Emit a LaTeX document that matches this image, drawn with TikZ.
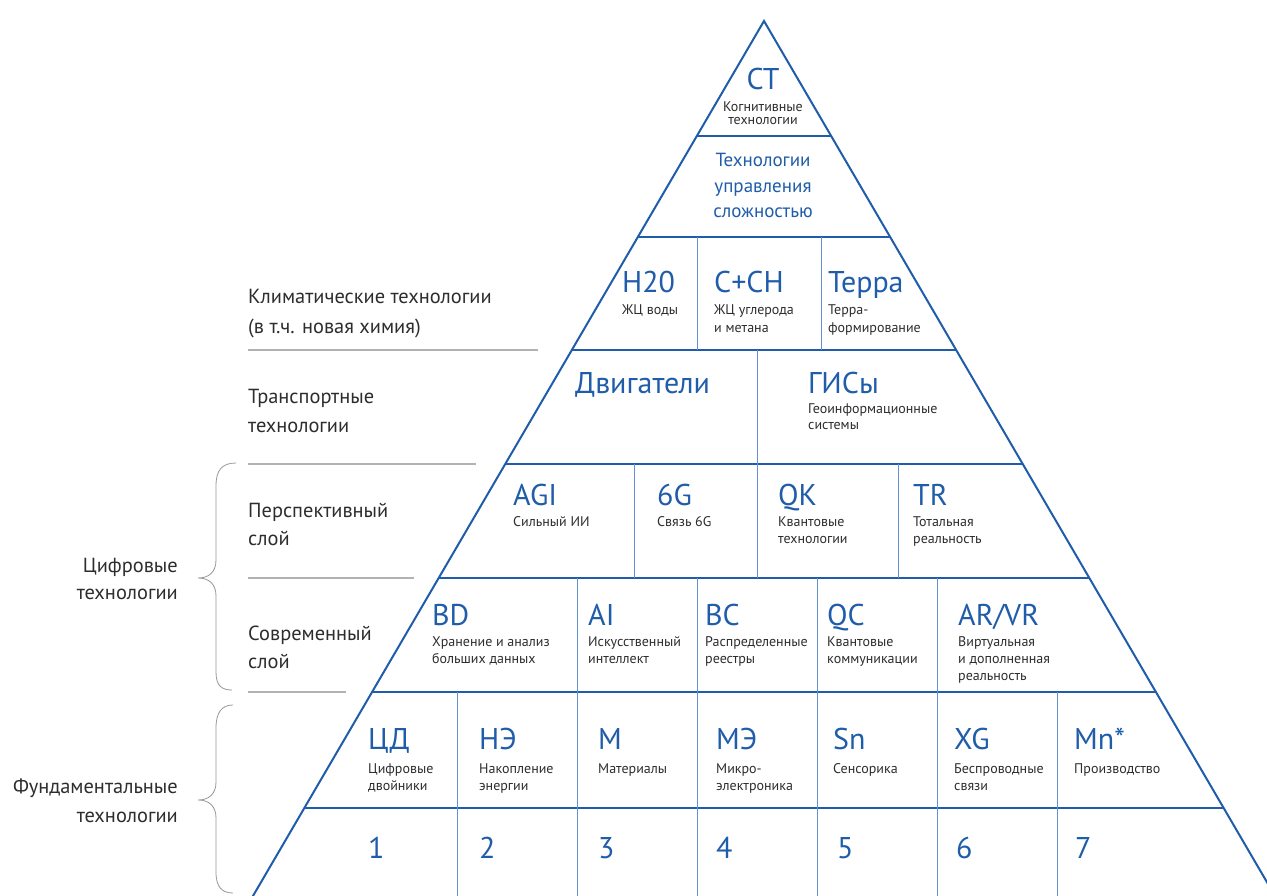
\documentclass[tikz,border=0pt]{standalone}
\usepackage{fontspec}
\setmainfont{PT Sans}
\definecolor{pblue}{RGB}{31,92,169}
\definecolor{lblue}{RGB}{100,145,208}
\definecolor{txt}{RGB}{45,45,45}
\definecolor{gline}{RGB}{178,178,178}
\definecolor{gbrace}{RGB}{150,150,150}
\tikzset{
  big/.style={anchor=base west, inner sep=0pt, text=pblue, font=\fontsize{30}{30}\selectfont},
  bigc/.style={anchor=base, inner sep=0pt, text=pblue, font=\fontsize{30}{30}\selectfont},
  mid/.style={anchor=base, inner sep=0pt, text=pblue, font=\fontsize{19}{19}\selectfont},
  sm/.style={anchor=base west, inner sep=0pt, text=txt, font=\fontsize{14}{14}\selectfont},
  smc/.style={anchor=base, inner sep=0pt, text=txt, font=\fontsize{14}{14}\selectfont},
  side/.style={anchor=base west, inner sep=0pt, text=txt, font=\fontsize{20.4}{20.4}\selectfont},
  sider/.style={anchor=base east, inner sep=0pt, text=txt, font=\fontsize{20.4}{20.4}\selectfont},
  outer/.style={draw=pblue, line width=2pt, line join=miter},
  hline/.style={draw=pblue, line width=1.1pt},
  vline/.style={draw=lblue, line width=1pt},
  gsep/.style={draw=gline, line width=1.2pt},
  gbr/.style={draw=gbrace, line width=0.8pt}
}
\begin{document}
\begin{tikzpicture}[x=1pt,y=-1pt]
\useasboundingbox (0,0) rectangle (1267,896);
\begin{scope}
\clip (0,0) rectangle (1267,896);
% inner horizontal lines
\draw[hline] (696.8,136) -- (831.2,136);
\draw[hline] (637.9,237) -- (890.1,237);
\draw[hline] (571.9,350) -- (956.1,350);
\draw[hline] (505.3,464) -- (1022.7,464);
\draw[hline] (438.7,578) -- (1089.3,578);
\draw[hline] (372.1,692) -- (1155.9,692);
\draw[hline] (304.4,808) -- (1223.6,808);
% vertical dividers
\draw[vline] (697,237) -- (697,350);
\draw[vline] (821,237) -- (821,350);
\draw[vline] (757,350) -- (757,578);
\draw[vline] (634,464) -- (634,578);
\draw[vline] (898,464) -- (898,578);
\draw[vline] (577,578) -- (577,692);
\draw[vline] (697,578) -- (697,692);
\draw[vline] (817,578) -- (817,692);
\draw[vline] (937,578) -- (937,692);
\foreach \vx in {457,577,697,817,937,1057}
  \draw[vline] (\vx,692) -- (\vx,900);
% outer triangle
\draw[outer] (247.7,905) -- (764,21) -- (1280.3,905);
\end{scope}

% left gray separators
\draw[gsep] (248,350) -- (538,350);
\draw[gsep] (248,464) -- (476,464);
\draw[gsep] (248,578) -- (414,578);
\draw[gsep] (248,692) -- (346,692);

% braces
\draw[gbr] (236,463) .. controls (222,463) and (216,470) .. (216,486) -- (216,560)
  .. controls (216,572) and (209,578) .. (198,578)
  .. controls (209,578) and (216,584) .. (216,596) -- (216,672)
  .. controls (216,686) and (222,690) .. (232,690);
\draw[gbr] (233,705) .. controls (222,705) and (216,712) .. (216,728) -- (216,782)
  .. controls (216,794) and (209,800) .. (198,800)
  .. controls (209,800) and (216,806) .. (216,818) -- (216,872)
  .. controls (216,887) and (222,893) .. (233,893);

% left labels
\node[side] (klim1) at (248,304) {Климатические технологии};
\node[side] (klim2) at (248,333) {(в т.ч. новая химия)};
\node[side] (tr1) at (248,403) {Транспортные};
\node[side] (tr2) at (248,432) {технологии};
\node[side] (per1) at (248,517) {Перспективный};
\node[side] (per2) at (248,545) {слой};
\node[side] (sov1) at (248,640) {Современный};
\node[side] (sov2) at (248,668) {слой};
\node[sider] (cif1) at (178,572) {Цифровые};
\node[sider] (cif2) at (178,599) {технологии};
\node[sider] (fun1) at (178,793) {Фундаментальные};
\node[sider] (fun2) at (178,822) {технологии};

% top
\node[bigc] (ct) at (763,90) {CT};
\node[smc] (ct1) at (763,112) {Когнитивные};
\node[smc] (ct2) at (763,125) {технологии};
\node[mid] (tu1) at (763,167) {Технологии};
\node[mid] (tu2) at (763,193) {управления};
\node[mid] (tu3) at (763,218) {сложностью};

% climate row
\node[big] (h2o) at (622,293) {H20};
\node[sm] (h2o1) at (622,315) {ЖЦ воды};
\node[big] (cch) at (714,293) {C+CH};
\node[sm] (cch1) at (714,315) {ЖЦ углерода};
\node[sm] (cch2) at (714,332) {и метана};
\node[big] (terra) at (828,293) {Терра};
\node[sm] (terra1) at (828,315) {Терра-};
\node[sm] (terra2) at (828,332) {формирование};

% transport row
\node[big] (dv) at (575,393) {Двигатели};
\node[big] (gis) at (808,393) {ГИСы};
\node[sm] (gis1) at (808,413) {Геоинформационные};
\node[sm] (gis2) at (808,429) {системы};

% perspective row
\node[big] (agi) at (513,505) {AGI};
\node[sm] (agi1) at (513,526) {Сильный ИИ};
\node[big] (g6) at (657,505) {6G};
\node[sm] (g61) at (657,526) {Связь 6G};
\node[big] (qk) at (778,505) {QK};
\node[sm] (qk1) at (778,526) {Квантовые};
\node[sm] (qk2) at (778,543) {технологии};
\node[big] (tr) at (913,505) {TR};
\node[sm] (tr1b) at (913,526) {Тотальная};
\node[sm] (tr2b) at (913,543) {реальность};

% modern row
\node[big] (bd) at (432,625) {BD};
\node[sm] (bd1) at (432,646) {Хранение и анализ};
\node[sm] (bd2) at (432,663) {больших данных};
\node[big] (ai) at (588,625) {AI};
\node[sm] (ai1) at (588,646) {Искусственный};
\node[sm] (ai2) at (588,663) {интеллект};
\node[big] (bc) at (705,625) {BC};
\node[sm] (bc1) at (705,646) {Распределенные};
\node[sm] (bc2) at (705,663) {реестры};
\node[big] (qc) at (827,625) {QC};
\node[sm] (qc1) at (827,646) {Квантовые};
\node[sm] (qc2) at (827,663) {коммуникации};
\node[big] (arvr) at (958,625) {AR/VR};
\node[sm] (arvr1) at (958,646) {Виртуальная};
\node[sm] (arvr2) at (958,663) {и дополненная};
\node[sm] (arvr3) at (958,680) {реальность};

% fundamental row
\node[big] (cd) at (368,749) {ЦД};
\node[sm] (cd1) at (368,773) {Цифровые};
\node[sm] (cd2) at (368,790) {двойники};
\node[big] (ne) at (479,749) {НЭ};
\node[sm] (ne1) at (479,773) {Накопление};
\node[sm] (ne2) at (479,790) {энергии};
\node[big] (m) at (598,749) {М};
\node[sm] (m1) at (598,773) {Материалы};
\node[big] (me) at (716,749) {МЭ};
\node[sm] (me1) at (716,773) {Микро-};
\node[sm] (me2) at (716,790) {электроника};
\node[big] (sn) at (833,749) {Sn};
\node[sm] (sn1) at (833,773) {Сенсорика};
\node[big] (xg) at (954,749) {XG};
\node[sm] (xg1) at (954,773) {Беспроводные};
\node[sm] (xg2) at (954,790) {связи};
\node[big] (mn) at (1074,749) {Mn*};
\node[sm] (mn1) at (1074,773) {Производство};

% numbers
\node[big] (n1) at (368,858) {1};
\node[big] (n2) at (479,858) {2};
\node[big] (n3) at (598,858) {3};
\node[big] (n4) at (716,858) {4};
\node[big] (n5) at (837,858) {5};
\node[big] (n6) at (956,858) {6};
\node[big] (n7) at (1075,858) {7};
\end{tikzpicture}
\end{document}
